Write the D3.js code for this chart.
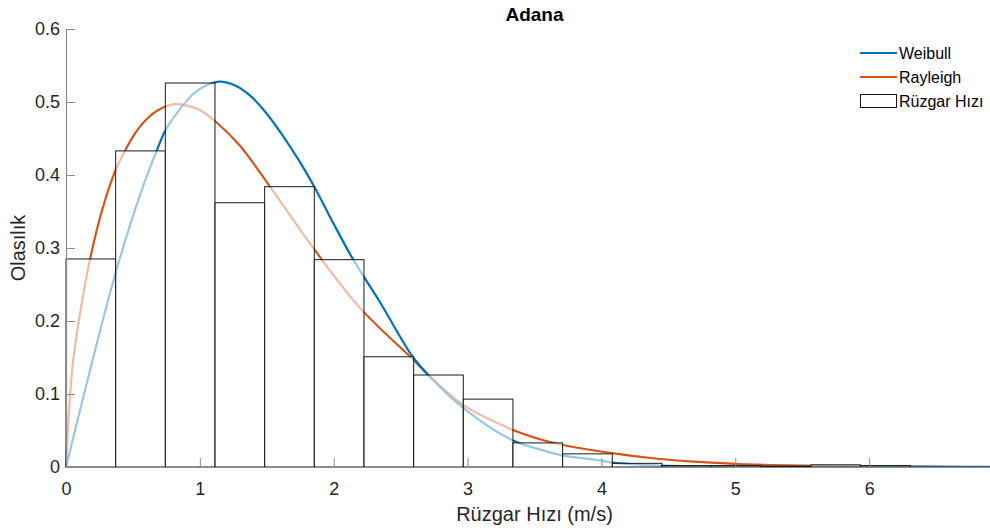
<!DOCTYPE html>
<html>
<head>
<meta charset="utf-8">
<script src="https://cdn.jsdelivr.net/npm/d3@7"></script>
<style>
  body { margin: 0; background: #fff; }
  svg text { font-family: "Liberation Sans", Arial, sans-serif; fill: #262626; }
</style>
</head>
<body>
<div id="chart"></div>
<script>
// histogram (probability density), bin edges and bar heights
const binEdges = [0, 0.371, 0.742, 1.113, 1.484, 1.855, 2.226, 2.597, 2.968, 3.339, 3.71, 4.081, 4.452, 4.823, 5.194, 5.565, 5.936, 6.307]
const binHeights = [0.285, 0.433, 0.526, 0.362, 0.384, 0.284, 0.151, 0.126, 0.093, 0.033, 0.018, 0.005, 0.002, 0.002, 0.001, 0.003, 0.002]

// fitted curves
const weibullX = [0, 0.18, 0.371, 0.55, 0.677, 0.745, 0.85, 0.95, 1.05, 1.15, 1.26, 1.374, 1.5, 1.623, 1.74, 1.855, 2.0, 2.146, 2.345, 2.59, 2.718, 2.967, 3.336, 3.54, 3.704, 3.99, 4.078, 4.436, 4.73, 5.2, 6, 7]
const weibullY = [0, 0.133, 0.266, 0.371, 0.433, 0.462, 0.49, 0.511, 0.523, 0.528, 0.523, 0.509, 0.484, 0.453, 0.42, 0.384, 0.333, 0.284, 0.226, 0.151, 0.124, 0.081, 0.0365, 0.024, 0.016, 0.009, 0.006, 0.002, 0.001, 0.0003, 0.0001, 0]

const rayleighX = [0, 0.02, 0.05, 0.1, 0.18, 0.27, 0.371, 0.44, 0.52, 0.6, 0.7, 0.815, 0.9, 1.0, 1.113, 1.3, 1.524, 1.855, 2.196, 2.594, 2.718, 2.967, 3.336, 3.54, 3.704, 4.078, 4.436, 4.73, 5.03, 5.5, 6, 6.5, 7]
const rayleighY = [0, 0.07, 0.14, 0.205, 0.285, 0.352, 0.407, 0.433, 0.458, 0.476, 0.49, 0.497, 0.495, 0.489, 0.474, 0.44, 0.384, 0.298, 0.218, 0.147, 0.124, 0.085, 0.051, 0.038, 0.0305, 0.019, 0.011, 0.007, 0.004, 0.002, 0.001, 0.0004, 0.0001]

const xTicks = [0, 1, 2, 3, 4, 5, 6]
const yTicks = [0, 0.1, 0.2, 0.3, 0.4, 0.5, 0.6]

const title = 'Adana'
const xLabel = 'Rüzgar Hızı (m/s)'
const yLabel = 'Olasılık'
const legendNames = ['Weibull', 'Rayleigh', 'Rüzgar Hızı']

const width = 990, height = 531
const margin = { top: 29, right: -13, bottom: 64, left: 66 }
const innerW = width - margin.left - margin.right
const innerH = height - margin.top - margin.bottom

const blue = '#0072BD', orange = '#D95319'

let svg = d3.select('#chart')
    .append('svg')
    .attr('width', width)
    .attr('height', height)

let canvas = svg.append('g')
    .attr('transform', 'translate(' + margin.left + ',' + margin.top + ')')

let x = d3.scaleLinear().domain([0, 7]).range([0, innerW])
let y = d3.scaleLinear().domain([0, 0.6]).range([innerH, 0])

let line = d3.line()
    .x(d => x(d[0]))
    .y(d => y(d[1]))
    .curve(d3.curveCatmullRom.alpha(0.5))

// curves first, bars are half transparent on top of them
canvas.append('path')
    .datum(rayleighX.map((v, i) => [v, rayleighY[i]]))
    .attr('fill', 'none')
    .attr('stroke', orange)
    .attr('stroke-width', 2.2)
    .attr('d', line)

canvas.append('path')
    .datum(weibullX.map((v, i) => [v, weibullY[i]]))
    .attr('fill', 'none')
    .attr('stroke', blue)
    .attr('stroke-width', 2.2)
    .attr('d', line)

canvas.selectAll('rect.bin')
    .data(binHeights)
    .enter().append('rect')
    .attr('class', 'bin')
    .attr('x', (d, i) => x(binEdges[i]))
    .attr('width', (d, i) => x(binEdges[i + 1]) - x(binEdges[i]))
    .attr('y', d => y(d))
    .attr('height', d => y(0) - y(d))
    .attr('fill', '#fff')
    .attr('fill-opacity', 0.6)
    .attr('stroke', '#1a1a1a')
    .attr('stroke-width', 1)

// axes, ticks pointing inwards
let xAxis = canvas.append('g')
    .attr('transform', 'translate(0,' + innerH + ')')
    .call(d3.axisBottom(x).tickValues(xTicks).tickSize(-9).tickPadding(15).tickFormat(d3.format('d')))

let yAxis = canvas.append('g')
    .call(d3.axisLeft(y).tickValues(yTicks).tickSize(-9).tickPadding(6).tickFormat(d => d === 0 ? '0' : d3.format('.1f')(d)))

for (let ax of [xAxis, yAxis]) {
  ax.select('.domain').attr('stroke', '#8a8a8a').attr('stroke-width', 1.2)
  ax.selectAll('.tick line').attr('stroke', '#8a8a8a')
  ax.selectAll('.tick text').attr('font-size', 18).attr('fill', '#262626')
    .style('font-family', '"Liberation Sans", Arial, sans-serif')
}

svg.append('text')
    .attr('x', margin.left + innerW / 2)
    .attr('y', 21)
    .attr('text-anchor', 'middle')
    .attr('font-size', 19)
    .attr('font-weight', 'bold')
    .style('fill', '#000')
    .text(title)

svg.append('text')
    .attr('x', margin.left + innerW / 2)
    .attr('y', 521)
    .attr('text-anchor', 'middle')
    .attr('font-size', 20)
    .text(xLabel)

svg.append('text')
    .attr('transform', 'translate(25,' + (margin.top + innerH / 2) + ') rotate(-90)')
    .attr('text-anchor', 'middle')
    .attr('font-size', 20)
    .text(yLabel)

// legend
let legend = svg.append('g').attr('transform', 'translate(860,53)')
legendNames.forEach((name, i) => {
  let row = legend.append('g').attr('transform', 'translate(0,' + i * 24 + ')')
  if (i < 2) {
    row.append('line')
        .attr('x1', 0).attr('x2', 37)
        .attr('stroke', i === 0 ? blue : orange)
        .attr('stroke-width', 2.2)
  } else {
    row.append('rect')
        .attr('x', 0.5).attr('y', -6.5)
        .attr('width', 36).attr('height', 13)
        .attr('fill', '#fff')
        .attr('stroke', '#1a1a1a')
  }
  row.append('text')
      .attr('x', 39)
      .attr('y', 5.5)
      .attr('font-size', 16)
      .style('fill', '#000')
      .text(name)
})
</script>
</body>
</html>
